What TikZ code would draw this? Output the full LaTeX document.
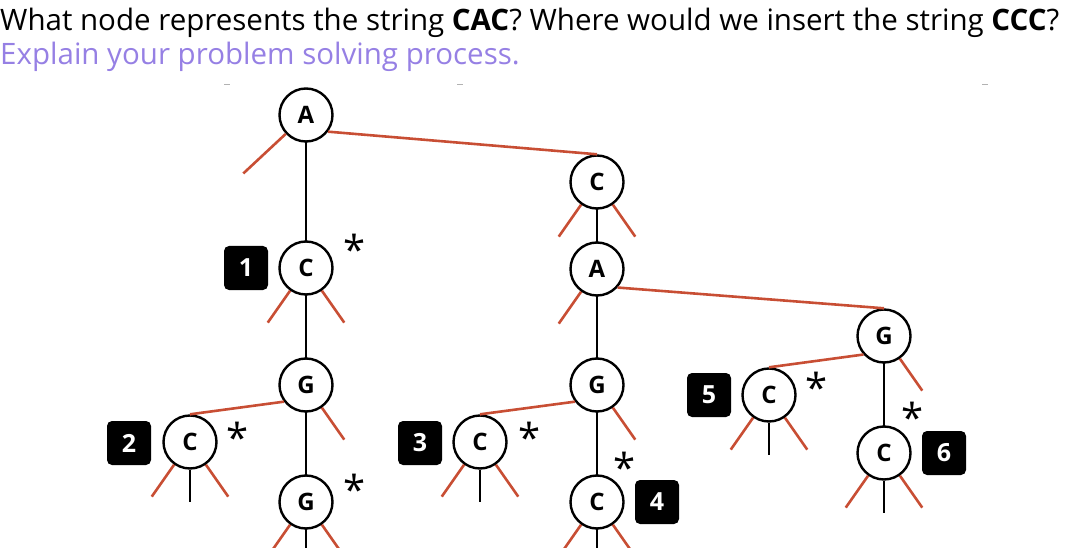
\documentclass[tikz,border=0pt]{standalone}
\usepackage{fontspec}
\setmainfont{Open Sans}
\begin{document}
\begin{tikzpicture}[x=1pt,y=1pt,
  nd/.style={circle,draw,line width=2.4pt,minimum size=53pt,inner sep=0pt,font=\fontsize{24}{24}\selectfont\bfseries,fill=white},
  nbox/.style={fill=black,rounded corners=5pt,minimum size=44pt,inner sep=0pt,text=white,font=\fontsize{25}{25}\selectfont\bfseries},
  rl/.style={draw=edgered,line width=2.6pt},
  bl/.style={draw=black,line width=2.6pt},
  st/.style={inner sep=0pt,font=\fontsize{40}{40}\selectfont}]
\definecolor{edgered}{RGB}{200,78,52}
\definecolor{purp}{RGB}{150,128,228}
\useasboundingbox (0,0) rectangle (1068,547);
\clip (0,0) rectangle (1068,547);
\node[anchor=west,inner sep=0pt,font=\fontsize{29.5}{29.5}\selectfont] (t1) at (0,524) {What node represents the string \textbf{CAC}? Where would we insert the string \textbf{CCC}?};
\node[anchor=west,inner sep=0pt,font=\fontsize{29.5}{29.5}\selectfont,text=purp] (t2) at (0,490) {Explain your problem solving process.};
\foreach \x in {227,460,985} \draw[gray!60,line width=1pt] (\x-3,462) -- (\x+3,462);
\coordinate (A1p) at (306,432);
\coordinate (C1p) at (306,279);
\coordinate (G1p) at (306,162);
\coordinate (G2p) at (306,45);
\coordinate (Ctp) at (597,365);
\coordinate (A2p) at (597,278);
\coordinate (G3p) at (597,162);
\coordinate (C4p) at (597,45);
\coordinate (G4p) at (884,211);
\coordinate (C6p) at (884,94);
\coordinate (bot1) at (306,-10);
\coordinate (bot2) at (597,-10);
\draw[bl] (A1p) -- (C1p) -- (G1p) -- (G2p) -- (bot1);
\draw[bl] (Ctp) -- (A2p) -- (G3p) -- (C4p) -- (bot2);
\draw[bl] (G4p) -- (C6p);
\node[nd] (A1) at (A1p) {A};
\node[nd] (C1) at (C1p) {C};
\node[nd] (G1) at (G1p) {G};
\node[nd] (C2) at (190,105) {C};
\node[nd] (G2) at (G2p) {G};
\node[nd] (C3) at (480,105) {C};
\node[nd] (Ct) at (Ctp) {C};
\node[nd] (A2) at (A2p) {A};
\node[nd] (G3) at (G3p) {G};
\node[nd] (C4) at (C4p) {C};
\node[nd] (G4) at (G4p) {G};
\node[nd] (C5) at (769,152) {C};
\node[nd] (C6) at (C6p) {C};
\draw[rl] (A1.-37) -- (Ct.north);
\draw[rl] (A2.-42) -- (G4.north);
\draw[rl] (G1.217) -- (C2.north);
\draw[rl] (G3.217) -- (C3.north);
\draw[rl] (G4.222) -- (C5.north);
\draw[rl] (A1.223) -- ++(223:58);
\foreach \n in {C1,C2,C3,C5,C6,Ct,G2,C4} {
  \draw[rl] (\n.235) -- ++(235:39);
  \draw[rl] (\n.305) -- ++(305:39);
}
\draw[rl] (A2.235) -- ++(235:39);
\foreach \n in {G1,G3,G4} \draw[rl] (\n.305) -- ++(305:39);
\foreach \n in {C2,C3,C5,C6} \draw[bl] (\n.south) -- ++(0,-32);
\node[nbox] (b1) at (246,279) {1};
\node[nbox] (b2) at (129,104) {2};
\node[nbox] (b3) at (420,104) {3};
\node[nbox] (b4) at (657,45) {4};
\node[nbox] (b5) at (709,152) {5};
\node[nbox] (b6) at (944,94) {6};
\node[st] (s1) at (355,298) {*};
\node[st] (s2) at (238,110) {*};
\node[st] (s3) at (530,110) {*};
\node[st] (s4) at (625,80) {*};
\node[st] (s5) at (817,160) {*};
\node[st] (s6) at (913,130) {*};
\node[st] (s7) at (355,58) {*};
\end{tikzpicture}
\end{document}
